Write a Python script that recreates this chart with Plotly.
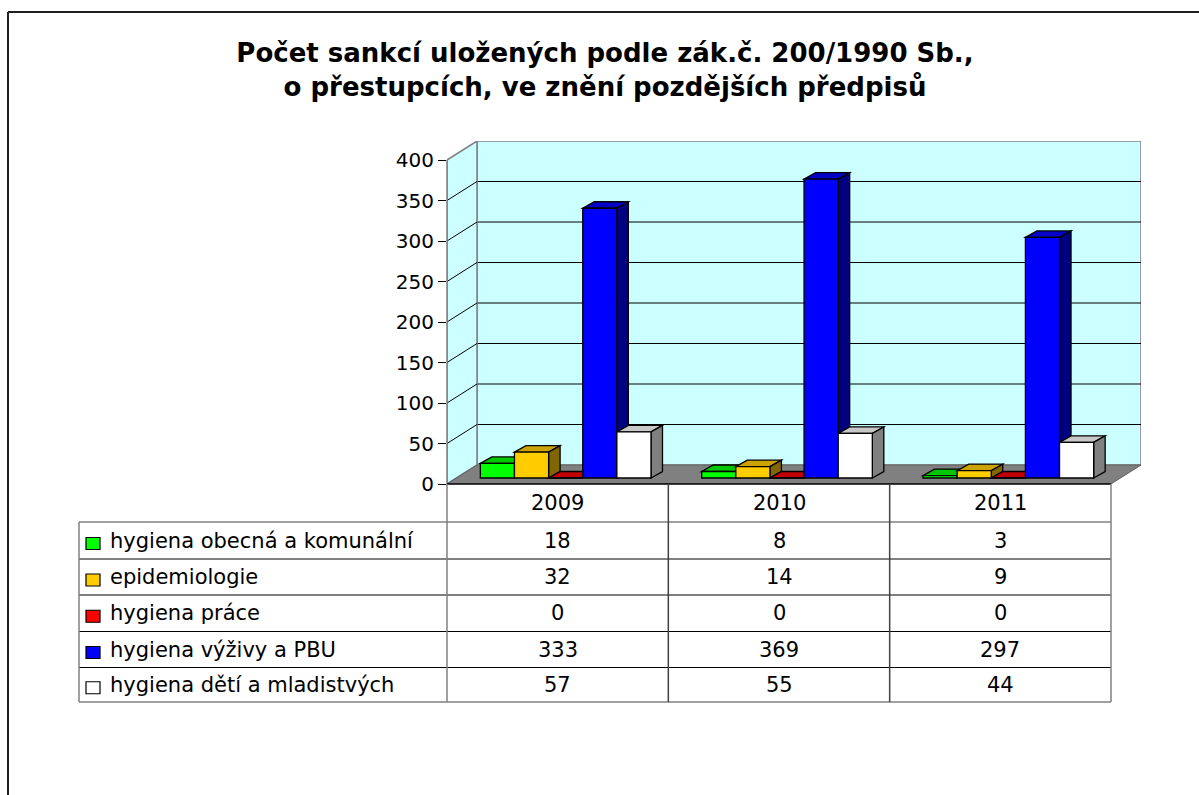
import plotly.graph_objects as go

# ---------------- data ----------------
years = ["2009", "2010", "2011"]
series_names = [
    "hygiena obecná a komunální",
    "epidemiologie",
    "hygiena práce",
    "hygiena výživy a PBU",
    "hygiena dětí a mladistvých",
]
hyg_obecna = [18, 8, 3]
epidemiologie = [32, 14, 9]
hyg_prace = [0, 0, 0]
hyg_vyzivy = [333, 369, 297]
hyg_deti = [57, 55, 44]
y_ticks = [0, 50, 100, 150, 200, 250, 300, 350, 400]
title_lines = [
    "Počet sankcí uložených podle zák.č. 200/1990 Sb.,",
    "o přestupcích, ve znění pozdějších předpisů",
]

series_values = [hyg_obecna, epidemiologie, hyg_prace, hyg_vyzivy, hyg_deti]

# ---------------- styles ----------------
face_colors = ["#00FF00", "#FFCC00", "#FF0000", "#0000FF", "#FFFFFF"]
top_colors = ["#00C800", "#CCA300", "#C00000", "#0000C8", "#C8C8C8"]
side_colors = ["#008000", "#806600", "#800000", "#000080", "#808080"]
FONT = "DejaVu Sans"

W, H = 1199, 795
ML, MR, MT, MB = 447, 58, 141, 311
PW, PH = W - ML - MR, H - MT - MB

YMAX = 400
PX_X = 664 / 3.0                 # px per category unit (front plane)
PX_Y = 324 / 400.0               # px per value unit
DX = 30 / PX_X                   # depth offset of back wall
DY = 19 / PX_Y
BASE = 6 / PX_Y                  # bars stand on the middle of the floor
BDX = 11.5 / PX_X                # bar depth
BDY = 6.5 / PX_Y
SHIFT = 8 / PX_X
BAR_W = 0.1542
X0, X1 = -0.5, len(years) - 0.5
xpos = list(range(len(years)))


def px_x(px):
    return (px - ML) / PW


def px_y(py):
    return (H - MB - py) / PH


def path(points):
    return "M " + " L ".join(f"{a},{b}" for a, b in points) + " Z"


fig = go.Figure()
shapes = []

# ---- walls & floor ----
shapes.append(dict(type="rect", xref="x", yref="y", layer="below",
                   x0=X0 + DX, x1=X1 + DX, y0=DY, y1=YMAX + DY,
                   fillcolor="#CCFFFF", line=dict(color="#808080", width=1.5)))
for v in y_ticks[1:-1]:
    shapes.append(dict(type="line", xref="x", yref="y", layer="below",
                       x0=X0 + DX, x1=X1 + DX, y0=v + DY, y1=v + DY,
                       line=dict(color="#000000", width=1)))
shapes.append(dict(type="path", xref="x", yref="y", layer="below",
                   path=path([(X0, 0), (X0 + DX, DY), (X0 + DX, YMAX + DY), (X0, YMAX)]),
                   fillcolor="#CCFFFF", line=dict(color="#808080", width=1.5)))
for v in y_ticks[1:-1]:
    shapes.append(dict(type="line", xref="x", yref="y", layer="below",
                       x0=X0, x1=X0 + DX, y0=v, y1=v + DY,
                       line=dict(color="#000000", width=1)))
shapes.append(dict(type="path", xref="x", yref="y", layer="below",
                   path=path([(X0, 0), (X1, 0), (X1 + DX, DY), (X0 + DX, DY)]),
                   fillcolor="#808080", line=dict(color="#606060", width=1)))

# ---- bars (front faces as traces, top/side faces from same geometry) ----
n = len(series_names)
for i, (name, vals) in enumerate(zip(series_names, series_values)):
    off = SHIFT + (i - n / 2.0) * BAR_W
    fig.add_trace(go.Bar(
        x=xpos, y=vals, base=BASE, width=BAR_W, offset=off, name=name,
        marker=dict(color=face_colors[i], line=dict(color="#000000", width=1.3)),
        showlegend=False,
    ))
    for xi, v in zip(xpos, vals):
        xl = xi + off
        xr = xl + BAR_W
        t = BASE + v
        shapes.append(dict(type="path", xref="x", yref="y", layer="below",
                           path=path([(xl, t), (xl + BDX, t + BDY), (xr + BDX, t + BDY), (xr, t)]),
                           fillcolor=top_colors[i], line=dict(color="#000000", width=1.3)))
        shapes.append(dict(type="path", xref="x", yref="y", layer="below",
                           path=path([(xr, BASE), (xr + BDX, BASE + BDY), (xr + BDX, t + BDY), (xr, t)]),
                           fillcolor=side_colors[i], line=dict(color="#000000", width=1.3)))

# front left edge of side wall
shapes.append(dict(type="line", xref="paper", yref="paper",
                   x0=0, x1=0, y0=0, y1=px_y(MT + PH - YMAX * PX_Y),
                   line=dict(color="#808080", width=1.5)))

# ---- data table ----
row_edges = [522, 559, 595, 631.5, 667.5, 702]
header_top, table_left = 484, 79
col_edges = [X0 + k for k in range(len(years) + 1)]
col_px = [ML + (c - X0) * PX_X for c in col_edges]

# front floor edge / header top
shapes.append(dict(type="line", xref="paper", yref="paper",
                   x0=px_x(col_px[0]), x1=px_x(col_px[-1]), y0=px_y(header_top), y1=px_y(header_top),
                   line=dict(color="#000000", width=1.5)))
# horizontal lines
shapes.append(dict(type="line", xref="paper", yref="paper",
                   x0=px_x(table_left), x1=px_x(col_px[-1]), y0=px_y(row_edges[0]), y1=px_y(row_edges[0]),
                   line=dict(color="#808080", width=1.5)))
for r in row_edges[1:-1]:
    shapes.append(dict(type="line", xref="paper", yref="paper",
                       x0=px_x(table_left), x1=px_x(col_px[-1]), y0=px_y(r), y1=px_y(r),
                       line=dict(color="#000000", width=1)))
shapes.append(dict(type="line", xref="paper", yref="paper",
                   x0=px_x(table_left), x1=px_x(col_px[-1]), y0=px_y(row_edges[-1]), y1=px_y(row_edges[-1]),
                   line=dict(color="#808080", width=1.5)))
# vertical lines
shapes.append(dict(type="line", xref="paper", yref="paper",
                   x0=px_x(table_left), x1=px_x(table_left), y0=px_y(row_edges[0]), y1=px_y(row_edges[-1]),
                   line=dict(color="#808080", width=1.5)))
for k, cp in enumerate(col_px):
    shapes.append(dict(type="line", xref="paper", yref="paper",
                       x0=px_x(cp), x1=px_x(cp), y0=px_y(header_top), y1=px_y(row_edges[-1]),
                       line=dict(color="#808080" if k in (0, len(col_px) - 1) else "#404040", width=1.5)))

annotations = []
for xi, yr in zip(xpos, years):
    annotations.append(dict(x=xi, y=px_y((header_top + row_edges[0]) / 2), xref="x", yref="paper",
                            text=yr, showarrow=False, xanchor="center", yanchor="middle",
                            font=dict(family=FONT, size=21, color="#000000")))
for r, (name, vals) in enumerate(zip(series_names, series_values)):
    cy = (row_edges[r] + row_edges[r + 1]) / 2
    shapes.append(dict(type="rect", xref="paper", yref="paper",
                       x0=px_x(86), x1=px_x(100), y0=px_y(cy + 9), y1=px_y(cy - 3),
                       fillcolor=face_colors[r], line=dict(color="#000000", width=1.2)))
    annotations.append(dict(x=px_x(108), y=px_y(cy), xref="paper", yref="paper",
                            text=name, showarrow=False, xanchor="left", yanchor="middle",
                            font=dict(family=FONT, size=21, color="#000000")))
    for xi, v in zip(xpos, vals):
        annotations.append(dict(x=xi, y=px_y(cy), xref="x", yref="paper",
                                text=str(v), showarrow=False, xanchor="center", yanchor="middle",
                                font=dict(family=FONT, size=21, color="#000000")))

# ---- outer chart border (left & top) ----
shapes.append(dict(type="line", xref="paper", yref="paper",
                   x0=px_x(8), x1=px_x(8), y0=px_y(12), y1=px_y(H + 5),
                   line=dict(color="#202020", width=2)))
shapes.append(dict(type="line", xref="paper", yref="paper",
                   x0=px_x(8), x1=px_x(W + 5), y0=px_y(12), y1=px_y(12),
                   line=dict(color="#202020", width=2)))

fig.update_layout(
    width=W, height=H,
    margin=dict(l=ML, r=MR, t=MT, b=MB, autoexpand=False),
    paper_bgcolor="#FFFFFF", plot_bgcolor="rgba(0,0,0,0)",
    barmode="overlay",
    title=dict(text="<b>" + "<br>".join(title_lines) + "</b>",
               x=605 / W, xref="container", xanchor="center",
               y=1 - 62 / H, yref="container", yanchor="top",
               font=dict(family=FONT, size=26, color="#000000")),
    xaxis=dict(range=[X0, X1 + DX], showticklabels=False, ticks="", showgrid=False,
               zeroline=False, showline=False, fixedrange=True),
    yaxis=dict(range=[0, YMAX + DY], tickvals=y_ticks, ticks="outside", ticklen=8,
               tickcolor="#000000", tickwidth=1, showgrid=False, zeroline=False,
               showline=False, tickfont=dict(family=FONT, size=20, color="#000000"),
               fixedrange=True),
    shapes=shapes, annotations=annotations,
    showlegend=False,
)

fig.write_html("out.html", config={"displayModeBar": False},
               post_script="document.body.style.margin='0';")
